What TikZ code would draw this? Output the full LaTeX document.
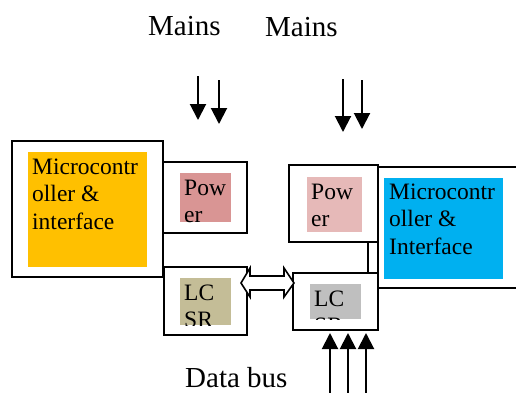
\documentclass[tikz,border=0pt]{standalone}
\usepackage{fontspec}
\setmainfont{Liberation Serif}
\usetikzlibrary{arrows.meta,calc}
\begin{document}
\begin{tikzpicture}[x=1pt,y=-1pt,
  box/.style={draw=black,line width=1.6pt,fill=white,inner sep=0pt,outer sep=0pt,anchor=north west},
  colfill/.style={inner sep=0pt,outer sep=0pt,anchor=north west},
  boxtext/.style={inner sep=0pt,anchor=base west,font=\fontsize{23.5}{27.5}\selectfont},
  lbl/.style={inner sep=0pt,anchor=base west,font=\fontsize{29}{33}\selectfont},
  flow/.style={line width=2pt,-{Triangle[length=16pt,width=16pt]}}]
\useasboundingbox (0,0) rectangle (516,392);
\clip (0,0) rectangle (516,392);
% labels
\node[lbl] (mainsL) at (148,35) {Mains};
\node[lbl] (mainsR) at (265,36) {Mains};
\node[lbl] (databus) at (185,387) {Data bus};
% left unit
\node[box,minimum width=151pt,minimum height=136pt] (lmcu) at (12,141) {};
\node[colfill,fill={rgb,255:red,255;green,192;blue,0},minimum width=119pt,minimum height=115pt] (lmcuf) at (28,152) {};
\node[boxtext] (lmcut) at (32,174) {\begin{tabular}[t]{@{}l@{}}Microcontr\\oller \&\\interface\end{tabular}};
\node[box,minimum width=84pt,minimum height=71pt] (lpow) at (163,162) {};
\node[colfill,fill={rgb,255:red,217;green,149;blue,148},minimum width=51pt,minimum height=49pt] (lpowf) at (180,173) {};
\node[boxtext] (lpowt) at (184,195) {\begin{tabular}[t]{@{}l@{}}Pow\\er\end{tabular}};
\node[box,minimum width=83pt,minimum height=68pt] (llcsr) at (164,267) {};
\node[colfill,fill={rgb,255:red,196;green,189;blue,151},minimum width=51pt,minimum height=47pt] (llcsrf) at (180,278) {};
\begin{scope}
\clip (llcsrf.north west) rectangle (llcsrf.south east);
\node[boxtext] (llcsrt) at (184,300) {\begin{tabular}[t]{@{}l@{}}LC\\SR\end{tabular}};
\end{scope}
% right unit
\node[box,minimum width=170pt,minimum height=121pt] (rmcu) at (378,167) {};
\node[colfill,fill={rgb,255:red,0;green,176;blue,240},minimum width=119pt,minimum height=101pt] (rmcuf) at (384,178) {};
\node[boxtext] (rmcut) at (389,199) {\begin{tabular}[t]{@{}l@{}}Microcontr\\oller \&\\Interface\end{tabular}};
\node[box,minimum width=89pt,minimum height=77pt] (rpow) at (289,165) {};
\node[colfill,fill={rgb,255:red,230;green,185;blue,184},minimum width=55pt,minimum height=55pt] (rpowf) at (307,177) {};
\node[boxtext] (rpowt) at (311,199) {\begin{tabular}[t]{@{}l@{}}Pow\\er\end{tabular}};
\node[box,minimum width=85pt,minimum height=57pt] (rlcsr) at (293,273) {};
\node[colfill,fill={rgb,255:red,191;green,191;blue,191},minimum width=51pt,minimum height=35pt] (rlcsrf) at (310,284) {};
\begin{scope}
\clip (rlcsrf.north west) rectangle (rlcsrf.south east);
\node[boxtext] (rlcsrt) at (314,306) {\begin{tabular}[t]{@{}l@{}}LC\\SR\end{tabular}};
\end{scope}
% link between right power and right LCSR
\draw[line width=1.6pt] ($(rpow.south east)+(-10,0)$) -- ($(rlcsr.north east)+(-10,0)$);
% hollow double arrow between LCSR units
\draw[line width=1.6pt,fill=white,line join=miter]
  ($(llcsr.north east)+(-6,16)$) -- ++(9,-15) -- ++(0,8) -- ++(34,0) -- ++(0,-8)
  -- ($(rlcsr.north west)+(1,10)$) -- ++(-10,14) -- ++(0,-7) -- ++(-34,0) -- ++(0,7) -- cycle;
% mains arrows
\coordinate (a1s) at (198,76);  \coordinate (a1e) at (198,120);
\coordinate (a2s) at (219,80);  \coordinate (a2e) at (219,124);
\coordinate (a3s) at (343,79);  \coordinate (a3e) at (343,132);
\coordinate (a4s) at (362,80);  \coordinate (a4e) at (362,129);
\draw[flow] (a1s) -- (a1e);
\draw[flow] (a2s) -- (a2e);
\draw[flow] (a3s) -- (a3e);
\draw[flow] (a4s) -- (a4e);
% data bus arrows
\coordinate (b1s) at (330,395); \coordinate (b1e) at (330,333);
\coordinate (b2s) at (348,395); \coordinate (b2e) at (348,333);
\coordinate (b3s) at (366,395); \coordinate (b3e) at (366,333);
\draw[flow] (b1s) -- (b1e);
\draw[flow] (b2s) -- (b2e);
\draw[flow] (b3s) -- (b3e);
\end{tikzpicture}
\end{document}
